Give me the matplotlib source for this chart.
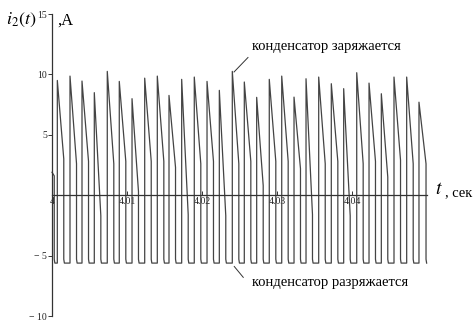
import numpy as np
import matplotlib
matplotlib.use('Agg')
import matplotlib.pyplot as plt

plt.rcParams['font.family'] = ['Liberation Serif', 'DejaVu Serif']
plt.rcParams['mathtext.fontset'] = 'stix'

# start of the record: value before the first drop
t_start = [4.0, 4.0003]
i_start = [1.9, 1.6]

# moments where the current jumps up (capacitor starts charging)
rise_t = [4.00071, 4.0024, 4.0040, 4.00564, 4.00737, 4.00897, 4.01067, 4.01236, 4.01404, 4.0156,
          4.01729, 4.01897, 4.02067, 4.02231, 4.02404, 4.02564, 4.02729, 4.02897, 4.03063, 4.03227,
          4.03387, 4.03556, 4.03724, 4.03889, 4.04063, 4.04227, 4.04391, 4.0456, 4.04729, 4.04893]
# peak values after each jump
peak_i = [9.5, 9.86, 9.45, 8.49, 10.25, 9.42, 7.99, 9.69, 9.86, 8.26,
          9.59, 9.78, 9.42, 8.68, 10.25, 9.37, 8.1, 9.59, 9.86, 8.12,
          9.64, 9.78, 9.23, 8.82, 10.14, 9.28, 8.4, 9.78, 9.78, 7.7]
# moments where the current drops (capacitor starts discharging)
drop_t = [4.00157, 4.00327, 4.00487, 4.00651, 4.00824, 4.00984, 4.01153, 4.01323, 4.01491, 4.01647,
          4.01816, 4.01984, 4.02153, 4.02317, 4.02491, 4.02651, 4.02816, 4.02984, 4.03149, 4.03313,
          4.03473, 4.03643, 4.03811, 4.03976, 4.04149, 4.04313, 4.04477, 4.04647, 4.04816, 4.04987]
# value just before each drop
end_i = [3.0, 2.6, 2.8, -1.7, 2.6, 2.8, 0.3, 2.8, 2.8, 2.3,
         -1.6, 2.6, 2.8, -1.7, 2.6, 2.8, 0.8, 2.8, 2.8, 2.2,
         -1.6, 2.6, 2.8, -1.7, 2.6, 2.8, 1.5, 2.9, 2.6, 2.6]
# bottom level right after a drop and right before the next jump
bottom_a = -5.3
bottom_b = -5.62

t = list(t_start)
cur = list(i_start)
t += [t_start[-1], t_start[-1] + 0.00008]
cur += [bottom_a, bottom_b]
for k in range(len(rise_t)):
    t += [rise_t[k], rise_t[k], drop_t[k], drop_t[k], drop_t[k] + 0.00008]
    cur += [bottom_b, peak_i[k], end_i[k], bottom_a, bottom_b]
    if k + 1 < len(rise_t):
        t += [rise_t[k + 1]]
        cur += [bottom_b]

fig = plt.figure(figsize=(4.76, 3.2), dpi=100)
ax = fig.add_axes([52 / 476, 4 / 320, 375 / 476, 302 / 320])
ax.plot(t, cur, color='#444444', lw=0.9, clip_on=False)
ax.set_xlim(4, 4.05)
ax.set_ylim(-10, 15)

ax.spines['top'].set_visible(False)
ax.spines['right'].set_visible(False)
ax.spines['bottom'].set_position(('data', 0))
for s in ['left', 'bottom']:
    ax.spines[s].set_color('#333333')
    ax.spines[s].set_linewidth(0.9)

ax.set_yticks([-10, -5, 5, 10, 15])
ax.set_yticklabels(['\u2212 10', '\u2212 5', '5', '10', '15'])
ax.set_xticks([4, 4.01, 4.02, 4.03, 4.04])
ax.set_xticklabels(['4', '4.01', '4.02', '4.03', '4.04'])
ax.tick_params(axis='y', direction='out', length=3, width=0.7, labelsize=7, pad=0.5,
               colors='#333333', labelcolor='#222222')
ax.tick_params(axis='x', direction='in', length=3, width=0.7, labelsize=7, pad=1.5,
               colors='#333333', labelcolor='#222222')

fig.text(21 / 476, 1 - 20 / 320, r'$i_2(t)$', fontsize=13, ha='center', va='center')
fig.text(57 / 476, 1 - 21 / 320, ',A', fontsize=12, ha='left', va='center')
fig.text(435 / 476, 1 - 190 / 320, r'$t$', fontsize=14, ha='left', va='center')
fig.text(445 / 476, 1 - 193 / 320, ', сек', fontsize=10.5, ha='left', va='center')

ax.text(4.02667, 12.35, 'конденсатор заряжается', fontsize=10.5, ha='left', va='center')
ax.plot([4.02427, 4.02613], [10.2, 11.4], color='#333333', lw=0.7, clip_on=False)
ax.text(4.02667, -7.2, 'конденсатор разряжается', fontsize=10.5, ha='left', va='center')
ax.plot([4.0243, 4.0255], [-5.9, -6.8], color='#333333', lw=0.7, clip_on=False)

fig.savefig('out.png', dpi=100)
